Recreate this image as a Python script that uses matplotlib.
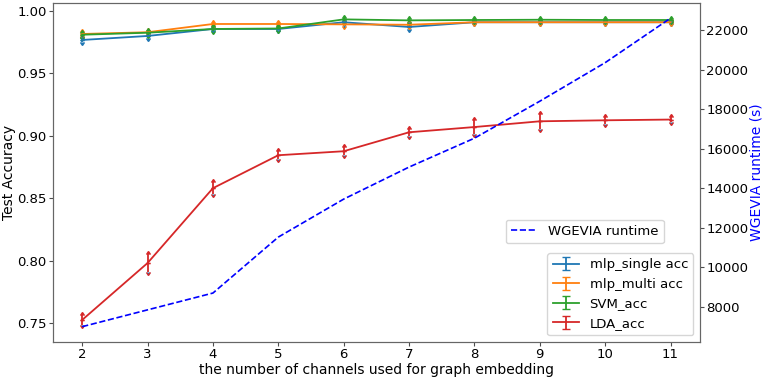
import numpy as np
import matplotlib
matplotlib.use('Agg')
import matplotlib.pyplot as plt

channels = [2, 3, 4, 5, 6, 7, 8, 9, 10, 11]

mlp_single = [0.9768, 0.9800, 0.9856, 0.9856, 0.9910, 0.9872, 0.9910, 0.9910, 0.9910, 0.9910]
mlp_single_err = [0.0015, 0.0013, 0.0010, 0.0010, 0.0010, 0.0013, 0.0010, 0.0010, 0.0010, 0.0010]
mlp_multi = [0.9816, 0.9830, 0.9896, 0.9896, 0.9893, 0.9890, 0.9910, 0.9910, 0.9910, 0.9910]
mlp_multi_err = [0.0013, 0.0013, 0.0010, 0.0010, 0.0013, 0.0010, 0.0010, 0.0010, 0.0010, 0.0010]
svm_acc = [0.9810, 0.9826, 0.9856, 0.9860, 0.9933, 0.9925, 0.9928, 0.9930, 0.9928, 0.9928]
svm_err = [0.0017, 0.0015, 0.0015, 0.0015, 0.0010, 0.0010, 0.0010, 0.0010, 0.0010, 0.0010]
lda_acc = [0.7524, 0.7980, 0.8580, 0.8844, 0.8876, 0.9028, 0.9070, 0.9116, 0.9124, 0.9130]
lda_err = [0.0038, 0.0074, 0.0050, 0.0030, 0.0030, 0.0030, 0.0054, 0.0058, 0.0030, 0.0022]

runtime = [7000, 7850, 8700, 11530, 13450, 15070, 16530, 18400, 20350, 22600]

plt.rcParams['font.size'] = 9.5

fig, ax = plt.subplots(figsize=(7.65, 3.79), dpi=100)
fig.subplots_adjust(left=0.069, right=0.915, bottom=0.098, top=0.992)

series = [
    (mlp_single, mlp_single_err, 'mlp_single acc', 'tab:blue'),
    (mlp_multi, mlp_multi_err, 'mlp_multi acc', 'tab:orange'),
    (svm_acc, svm_err, 'SVM_acc', 'tab:green'),
    (lda_acc, lda_err, 'LDA_acc', 'tab:red'),
]
handles = []
for vals, errs, name, col in series:
    # upper half with arrow at the top, lower half with arrow at the bottom
    ax.errorbar(channels, vals, yerr=errs, lolims=True, color=col,
                linewidth=1.3, elinewidth=1.3, capsize=1.6)
    ax.errorbar(channels, vals, yerr=errs, uplims=True, fmt='none',
                ecolor=col, elinewidth=1.3, capsize=1.6)
    # proxy for the legend (plain capped error bar)
    h = ax.errorbar([np.nan], [np.nan], yerr=[np.nan], color=col,
                    linewidth=1.3, capsize=3, label=name)
    handles.append(h)

ax.set_xlabel('the number of channels used for graph embedding', fontsize=10)
ax.set_ylabel('Test Accuracy', fontsize=10)
ax.xaxis.set_label_coords(0.5, -0.062)
ax.yaxis.set_label_coords(-0.057, 0.5)
ax.set_xticks(channels)
ax.set_xlim(1.55, 11.45)
ax.set_ylim(0.7348, 1.0064)
ax.set_yticks([0.75, 0.80, 0.85, 0.90, 0.95, 1.00])
ax.tick_params(labelsize=9.5, length=3, pad=1.5)

ax2 = ax.twinx()
ln, = ax2.plot(channels, runtime, 'b--', linewidth=1.2, label='WGEVIA runtime')
ax2.set_ylabel('WGEVIA runtime (s)', color='blue', fontsize=10)
ax2.yaxis.set_label_coords(1.077, 0.5)
ax2.set_ylim(6232, 23364)
ax2.set_yticks(np.arange(8000, 22001, 2000))
ax2.tick_params(labelsize=9.5, length=3, pad=1.5)

for a in (ax, ax2):
    for s in a.spines.values():
        s.set_color('0.4')
    a.tick_params(color='0.3')

leg2 = ax2.legend(handles=[ln], loc='center right', bbox_to_anchor=(0.954, 0.326))
ax2.add_artist(leg2)
ax2.legend(handles=handles, loc='lower right')

fig.savefig('out.png', dpi=100)
